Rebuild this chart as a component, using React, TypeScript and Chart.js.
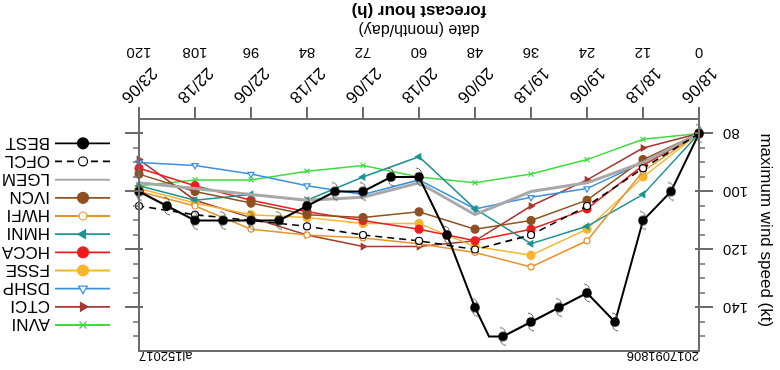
import React, { useEffect, useRef } from 'react';
import { Chart, registerables } from 'chart.js';
import { drawPoint } from 'chart.js/helpers';

Chart.register(...registerables);

// ---------- data ----------
const HOURS = [0, 12, 24, 36, 48, 60, 72, 84, 96, 108, 120];
const DATE_LABELS = ['18/06', '18/18', '19/06', '19/18', '20/06', '20/18', '21/06', '21/18', '22/06', '22/18', '23/06'];
const Y_MAJOR = [80, 100, 120, 140];
const Y_MIN = 75;
const Y_MAX = 155;

const BEST_HOURS = [0, 6, 12, 18, 24, 30, 36, 42, 45, 48, 54, 60, 66, 72, 78, 84, 90, 96, 102, 108, 114, 120];
const BEST = [80, 100, 110, 145, 135, 140, 145, 150, 150, 140, 115, 95, 95, 100, 100, 105, 110, 110, 110, 110, 105, 100];
const OFCL = [80, 92, 105, 115, 120, 117, 115, 112, 110, 108, 105];
const LGEM = [80, 90, 97, 100, 108, 97, 102, 103, 101, 99, 97];
const IVCN = [80, 89, 103, 110, 113, 107, 109, 108, 104, 100, 94];
const HWFI = [80, 93, 117, 126, 121, 118, 116, 115, 113, 105, 100];
const HMNI = [80, 101, 112, 118, 106, 88, 95, 103, 101, 103, 98];
const HCCA = [80, 91, 106, 113, 117, 113, 110, 107, 103, 98, 92];
const FSSE = [80, 95, 113, 122, 119, 111, 111, 109, 108, 104, 99];
const DSHP = [80, 90, 99, 102, 106, 96, 101, 98, 94, 91, 90];
const CTCI = [80, 85, 96, 105, 117, 119, 119, 115, 109, 103, 89];
const AVNI = [80, 82, 89, 94, 97, 95, 91, 93, 96, 96, 98];

const INIT_TIME = '2017091806';
const STORM_ID = 'al152017';

// ---------- styles ----------
const FONT = '"Liberation Sans", Arial, Helvetica, sans-serif';
const AXIS = '#6c6c6c';

type Style = {
  color: string; width: number; dash?: number[]; point: string; rot: number;
  filled: boolean; r: number; lr: number;
};

const STYLES: Record<string, Style> = {
  BEST: { color: '#000000', width: 2, point: 'hurricane', rot: 0, filled: true, r: 5, lr: 5.5 },
  OFCL: { color: '#000000', width: 1.6, dash: [7, 5], point: 'circle', rot: 0, filled: false, r: 3.5, lr: 4.5 },
  LGEM: { color: '#a8a8a8', width: 3, point: 'none', rot: 0, filled: true, r: 0, lr: 0 },
  IVCN: { color: '#8e5020', width: 1.5, point: 'circle', rot: 0, filled: true, r: 4, lr: 5.5 },
  HWFI: { color: '#e8922e', width: 1.5, point: 'circle', rot: 0, filled: false, r: 3, lr: 4 },
  HMNI: { color: '#1f9292', width: 1.5, point: 'triangle', rot: 90, filled: true, r: 3.5, lr: 5 },
  HCCA: { color: '#ee1c1c', width: 1.5, point: 'circle', rot: 0, filled: true, r: 4, lr: 5.5 },
  FSSE: { color: '#f7b52c', width: 1.5, point: 'circle', rot: 0, filled: true, r: 4, lr: 5.5 },
  DSHP: { color: '#3a8fe0', width: 1.5, point: 'triangle', rot: 0, filled: false, r: 3.5, lr: 5 },
  CTCI: { color: '#a53830', width: 1.5, point: 'triangle', rot: -90, filled: true, r: 3.5, lr: 5 },
  AVNI: { color: '#3ddc3d', width: 1.5, point: 'crossRot', rot: 0, filled: false, r: 3.5, lr: 5 },
};

const SERIES: [string, number[]][] = [
  ['OFCL', OFCL], ['LGEM', LGEM], ['IVCN', IVCN], ['HWFI', HWFI], ['HMNI', HMNI],
  ['HCCA', HCCA], ['FSSE', FSSE], ['DSHP', DSHP], ['CTCI', CTCI], ['AVNI', AVNI],
];

function makeHurricaneIcon(): HTMLCanvasElement {
  const c = document.createElement('canvas');
  c.width = 24; c.height = 24;
  const g = c.getContext('2d')!;
  const cx = 12, cy = 12;
  g.strokeStyle = '#555';
  g.lineWidth = 0.9;
  g.beginPath(); g.moveTo(cx + 2, cy - 3); g.quadraticCurveTo(cx + 3, cy - 8, cx - 3, cy - 9); g.stroke();
  g.beginPath(); g.moveTo(cx - 2, cy + 3); g.quadraticCurveTo(cx - 3, cy + 8, cx + 3, cy + 9); g.stroke();
  g.fillStyle = '#000';
  g.beginPath(); g.arc(cx, cy, 4.8, 0, Math.PI * 2); g.fill();
  return c;
}

export default function App() {
  const ref = useRef<HTMLCanvasElement | null>(null);

  useEffect(() => {
    if (!ref.current) return;
    const icon = makeHurricaneIcon();

    const datasets: any[] = [];
    datasets.push({
      label: 'BEST',
      data: BEST_HOURS.map((h, i) => ({ x: h, y: BEST[i] })),
      borderColor: STYLES.BEST.color,
      borderWidth: STYLES.BEST.width,
      pointStyle: icon,
      pointRadius: (c: any) => (c.raw && c.raw.x % 6 === 0 ? 5 : 0),
      tension: 0,
      clip: false,
    });
    SERIES.forEach(([name, vals]) => {
      const s = STYLES[name];
      datasets.push({
        label: name,
        data: HOURS.map((h, i) => ({ x: h, y: vals[i] })),
        borderColor: s.color,
        borderWidth: s.width,
        borderDash: s.dash || [],
        pointStyle: s.point === 'none' ? 'circle' : s.point,
        pointRotation: s.rot,
        pointRadius: s.r,
        pointBackgroundColor: s.filled ? s.color : '#ffffff',
        pointBorderColor: s.color,
        pointBorderWidth: 1.2,
        tension: 0,
        clip: false,
      });
    });

    const decor = {
      id: 'decor',
      afterDraw(chart: any) {
        const { ctx, chartArea: a, scales } = chart;
        const xs = scales.x, ys = scales.y;
        ctx.save();
        // frame
        ctx.strokeStyle = AXIS;
        ctx.lineWidth = 2;
        ctx.strokeRect(a.left, a.top, a.right - a.left, a.bottom - a.top);
        // y ticks (minor both sides, major on right)
        for (let v = Y_MIN + 5; v < Y_MAX; v += 5) {
          const py = Math.round(ys.getPixelForValue(v));
          const major = Y_MAJOR.includes(v);
          ctx.beginPath();
          if (major) {
            ctx.lineWidth = 2;
            ctx.moveTo(a.left, py); ctx.lineTo(a.left + 4, py);
            ctx.moveTo(a.right - 4, py); ctx.lineTo(a.right + 14, py);
          } else {
            ctx.lineWidth = 1.5;
            ctx.moveTo(a.left - 6, py); ctx.lineTo(a.left, py);
            ctx.moveTo(a.right, py); ctx.lineTo(a.right + 6, py);
          }
          ctx.stroke();
        }
        // date labels
        ctx.fillStyle = '#000';
        ctx.font = `17px ${FONT}`;
        ctx.textAlign = 'center';
        ctx.textBaseline = 'middle';
        HOURS.forEach((h, i) => {
          const px = xs.getPixelForValue(h);
          ctx.save();
          ctx.translate(px, 285);
          ctx.rotate(-Math.PI / 4);
          ctx.fillText(DATE_LABELS[i], 0, 0);
          ctx.restore();
        });
        ctx.font = `16px ${FONT}`;
        ctx.fillText('date (month/day)', (a.left + a.right) / 2, 341);
        // corner texts
        ctx.font = `13px ${FONT}`;
        ctx.textBaseline = 'alphabetic';
        ctx.textAlign = 'left';
        ctx.fillText(INIT_TIME, a.left, a.top - 1);
        ctx.textAlign = 'right';
        ctx.fillText(STORM_ID, a.right, a.top - 1);
        // legend
        const names = ['BEST', ...SERIES.map((s) => s[0])];
        names.forEach((name, i) => {
          const s = STYLES[name];
          const ry = 226.7 - i * 18.17;
          ctx.save();
          ctx.strokeStyle = s.color;
          ctx.lineWidth = name === 'LGEM' ? 2 : 1.8;
          ctx.setLineDash(s.dash || []);
          ctx.beginPath(); ctx.moveTo(670, ry); ctx.lineTo(725, ry); ctx.stroke();
          ctx.setLineDash([]);
          if (s.lr > 0) {
            ctx.fillStyle = s.filled ? s.color : '#ffffff';
            ctx.strokeStyle = s.color;
            ctx.lineWidth = 1.2;
            drawPoint(ctx, { pointStyle: s.point === 'hurricane' ? 'circle' : s.point, rotation: s.rot, radius: s.lr, borderWidth: 1.2 } as any, 697, ry);
          }
          ctx.fillStyle = '#000';
          ctx.font = `17px ${FONT}`;
          ctx.textAlign = 'left';
          ctx.textBaseline = 'middle';
          ctx.fillText(name, 730, ry + 1);
          ctx.restore();
        });
        ctx.restore();
      },
    };

    const chart = new Chart(ref.current, {
      type: 'line',
      data: { datasets },
      options: {
        animation: false,
        responsive: false,
        maintainAspectRatio: false,
        devicePixelRatio: 1,
        layout: { padding: { left: 0, top: 11, right: 139, bottom: 0 } },
        plugins: { legend: { display: false }, tooltip: { enabled: false }, title: { display: false } },
        scales: {
          x: {
            type: 'linear',
            position: 'bottom',
            min: 0,
            max: 120,
            afterBuildTicks: (s: any) => { s.ticks = HOURS.map((v) => ({ value: v })); },
            ticks: {
              autoSkip: false, maxRotation: 0, minRotation: 0, padding: 46, color: '#000',
              font: { family: FONT, size: 15 },
              callback: (v: any) => String(v),
            },
            grid: { drawOnChartArea: false, drawTicks: true, tickLength: 12, color: AXIS, lineWidth: 2 },
            border: { display: true, color: AXIS, width: 2 },
            title: {
              display: true, text: 'forecast hour (h)', color: '#000',
              font: { family: FONT, size: 17, weight: 'bold' }, padding: { top: 0, bottom: 0 },
            },
            afterFit: (s: any) => { s.height = 119; },
          },
          y: {
            type: 'linear',
            position: 'left',
            min: Y_MIN,
            max: Y_MAX,
            afterBuildTicks: (s: any) => { s.ticks = Y_MAJOR.map((v) => ({ value: v })); },
            ticks: { autoSkip: false, padding: 10, color: '#000', font: { family: FONT, size: 15 } },
            grid: { drawOnChartArea: false, drawTicks: true, tickLength: 14, color: AXIS, lineWidth: 2 },
            border: { display: true, color: AXIS, width: 2 },
            title: {
              display: true, text: 'maximum wind speed (kt)  ', color: '#000',
              font: { family: FONT, size: 17 }, padding: { top: 4, bottom: 0 },
            },
            afterFit: (s: any) => { s.width = 81; },
          },
        },
      } as any,
      plugins: [decor],
    });
    return () => chart.destroy();
  }, []);

  return (
    <div style={{ position: 'absolute', left: 0, top: 0, width: 780, height: 370, transform: 'rotate(180deg)', background: '#fff' }}>
      <canvas ref={ref} width={780} height={370} style={{ display: 'block', width: 780, height: 370 }} />
    </div>
  );
}
